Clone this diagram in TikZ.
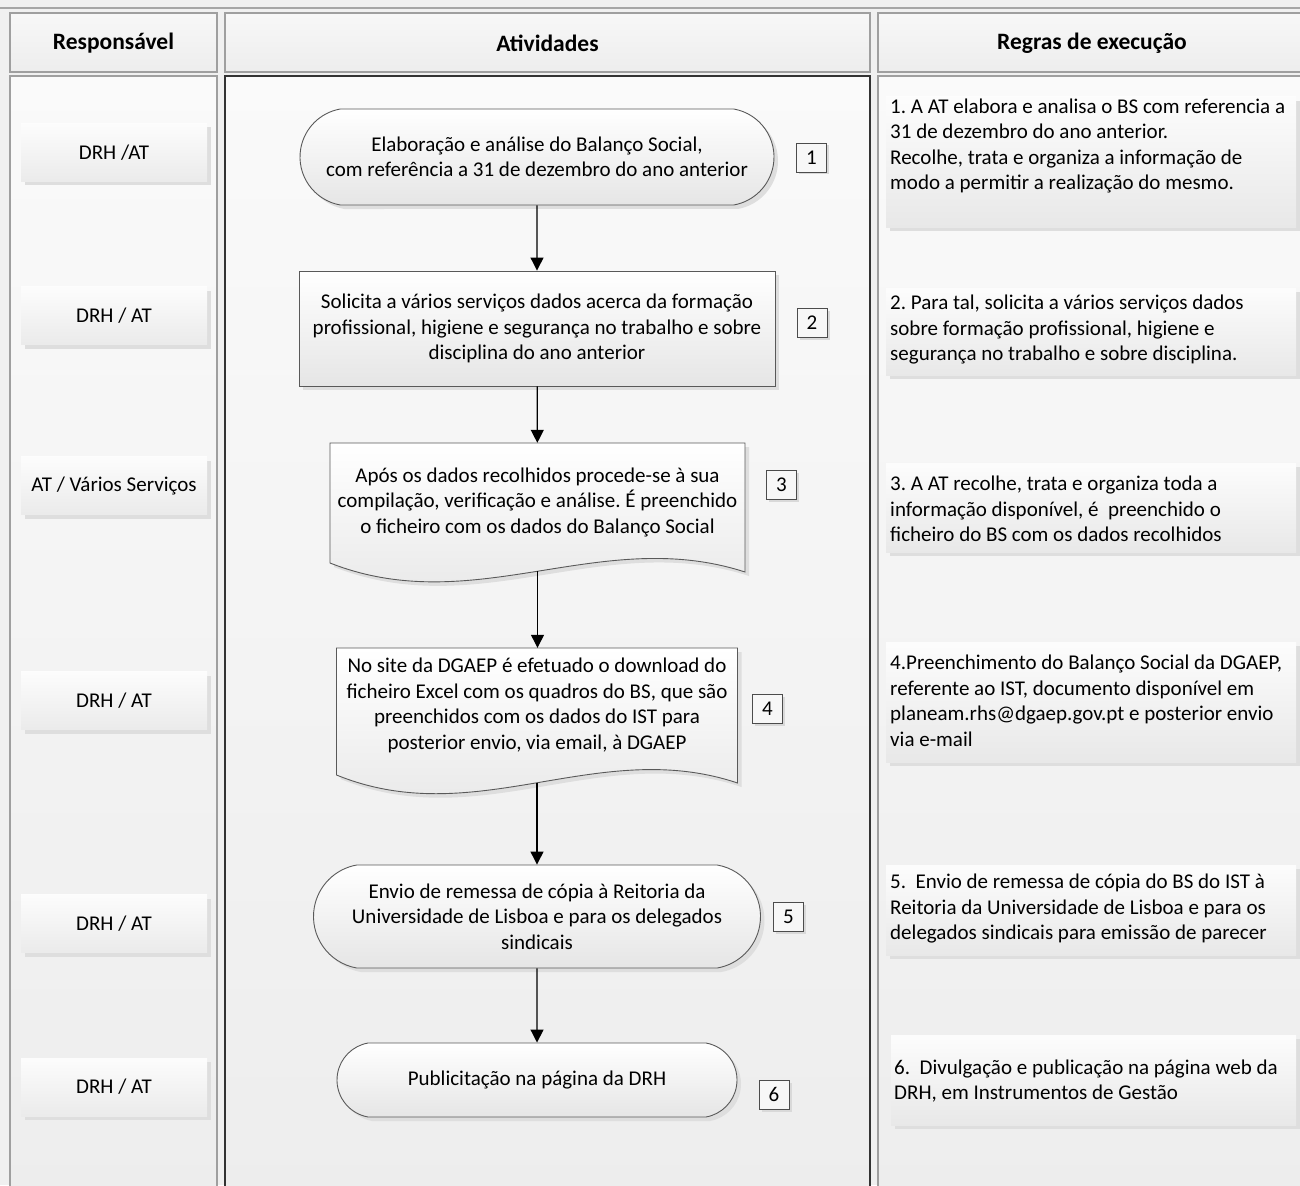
\documentclass[tikz,border=0pt]{standalone}
\usepackage{fontspec}
\setmainfont{Carlito}
\usetikzlibrary{arrows.meta,shapes.misc,shadows}
\definecolor{bgc}{HTML}{F0F0F0}
\frenchspacing
\tikzset{
  shade4/.style={drop shadow={shadow xshift=4pt, shadow yshift=-4pt, fill=black!13, opacity=1}},
  colhead/.style={draw=gray!75, line width=1.2pt, top color=white!97!black, bottom color=white!93!black},
  colbody/.style={draw=gray!75, line width=1.2pt, top color=white!98!black, bottom color=white!93!black},
  headtext/.style={font=\fontsize{23.5}{28}\selectfont\bfseries},
  lanebox/.style={rectangle, minimum width=186pt, minimum height=58pt, inner sep=0pt,
    top color=white!99!black, bottom color=white!92!black, shade4},
  rulebox/.style={rectangle, inner sep=0pt, minimum width=410pt,
    top color=white!99!black, bottom color=white!91!black, shade4},
  ruletext/.style={rectangle, align=left, inner sep=0pt, anchor=west},
  flow/.style={draw=black!65, line width=0.9pt, top color=white, bottom color=white!90!black, shade4},
  term/.style={flow, rounded rectangle, rounded rectangle arc length=160, align=center, inner sep=0pt},
  ftext/.style={rectangle, align=center, inner sep=0pt},
  numbox/.style={rectangle, draw=black!70, line width=0.8pt, fill=white!97!black, minimum width=30pt,
    minimum height=29pt, inner sep=0pt,
    drop shadow={shadow xshift=2.5pt, shadow yshift=-2.5pt, fill=black!15, opacity=1}},
  arr/.style={-{Triangle[length=13pt,width=13pt]}, line width=1.2pt, black}
}
\begin{document}
\begin{tikzpicture}[x=1pt, y=-1pt, font=\fontsize{21}{25.5}\selectfont]
\useasboundingbox (0,0) rectangle (1300,1185);
\fill[bgc] (0,0) rectangle (1300,1185);
\draw[gray!70, line width=1.2pt] (0,8) -- (1300,8);
% columns
\path[colhead] (10,13) rectangle (217,72);
\path[colhead] (225,13) rectangle (870,72);
\path[colhead] (878,13) rectangle (1304,72);
\path[colbody] (10,76) rectangle (217,1195);
\path[colbody, draw=black!80] (225,76) rectangle (870,1195);
\path[colbody] (878,76) rectangle (1304,1195);
\node[headtext] (h1) at (113.5,43) {Responsável};
\node[headtext] (h2) at (547.5,43) {Atividades};
\node[headtext] (h3) at (1092,43) {Regras de execução};
% lanes
\node[lanebox] (l1) at (114,152.5) {DRH /AT};
\node[lanebox] (l2) at (114,315.5) {DRH / AT};
\node[lanebox] (l3) at (114,485.5) {AT / Vários Serviços};
\node[lanebox] (l4) at (114,700.5) {DRH / AT};
\node[lanebox] (l5) at (114,923.5) {DRH / AT};
\node[lanebox] (l6) at (114,1087) {DRH / AT};
% rules
\node[rulebox, minimum height=130pt] (r1) at (1091,162) {};
\node[ruletext] (r1t) at (890,146) {1. A AT elabora e analisa o BS com referencia a\\31 de dezembro do ano anterior.\\Recolhe, trata e organiza a informação de\\modo a permitir a realização do mesmo.};
\node[rulebox, minimum height=87pt] (r2) at (1091,331.5) {};
\node[ruletext] (r2t) at (890,330) {2. Para tal, solicita a vários serviços dados\\sobre formação profissional, higiene e\\segurança no trabalho e sobre disciplina.};
\node[rulebox, minimum height=89pt] (r3) at (1091,507.5) {};
\node[ruletext] (r3t) at (890,509) {3. A AT recolhe, trata e organiza toda a\\informação disponível, é\ \ preenchido o\\ficheiro do BS com os dados recolhidos};
\node[rulebox, minimum height=120pt] (r4) at (1091,702) {};
\node[ruletext] (r4t) at (890,701) {4.Preenchimento do Balanço Social da DGAEP,\\referente ao IST, documento disponível em\\planeam.rhs@dgaep.gov.pt e posterior envio\\via e-mail};
\node[rulebox, minimum height=90pt] (r5) at (1091,910) {};
\node[ruletext] (r5t) at (890,909) {5.\ \ Envio de remessa de cópia do BS do IST à\\Reitoria da Universidade de Lisboa e para os\\delegados sindicais para emissão de parecer};
\node[rulebox, minimum height=90pt, minimum width=405pt] (r6) at (1093.5,1080) {};
\node[ruletext] (r6t) at (894,1081) {6.\ \ Divulgação e publicação na página web da\\DRH, em Instrumentos de Gestão};
% flow shapes
\node[term, minimum width=474pt, minimum height=96pt] (s1) at (537,157) {Elaboração e análise do Balanço Social,\\com referência a 31 de dezembro do ano anterior};
\node[flow, rectangle, align=center, minimum width=476pt, minimum height=115pt, inner sep=0pt] (s2) at (537,328.5) {Solicita a vários serviços dados acerca da formação\\profissional, higiene e segurança no trabalho e sobre\\disciplina do ano anterior};
\path[flow] (330,443) -- (745,443) -- (745,572) .. controls (600,525) and (475,620) .. (330,563) coordinate[pos=0.5] (s3b) -- cycle;
\node[ftext, minimum width=415pt, minimum height=118pt] (s3) at (537.5,502) {Após os dados recolhidos procede-se à sua\\compilação, verificação e análise. É preenchido\\o ficheiro com os dados do Balanço Social};
\path[flow] (336.5,648) -- (737.5,648) -- (737.5,783) .. controls (597.5,736) and (476.5,832) .. (336.5,775) coordinate[pos=0.5] (s4b) -- cycle;
\node[ftext, minimum width=401pt, minimum height=115pt] (s4) at (537,705.5) {No site da DGAEP é efetuado o download do\\ficheiro Excel com os quadros do BS, que são\\preenchidos com os dados do IST para\\posterior envio, via email, à DGAEP};
\node[term, minimum width=447pt, minimum height=103pt] (s5) at (537,916.5) {Envio de remessa de cópia à Reitoria da\\Universidade de Lisboa e para os delegados\\sindicais};
\node[term, minimum width=400pt, minimum height=74pt] (s6) at (537,1080) {Publicitação na página da DRH};
% number boxes
\node[numbox] (n1) at (811.5,157.5) {1};
\node[numbox] (n2) at (812,323) {2};
\node[numbox] (n3) at (781.5,485) {3};
\node[numbox] (n4) at (767.5,708.5) {4};
\node[numbox] (n5) at (788.5,916.5) {5};
\node[numbox] (n6) at (774,1094.5) {6};
% connectors
\draw[arr] (s1) -- (s2);
\draw[arr] (s2) -- (s3);
\draw[arr] (s3b) -- (s3b |- s4.north);
\draw[arr] (s4b) -- (s4b |- s5.north);
\draw[arr] (s5) -- (s6);
\end{tikzpicture}
\end{document}
